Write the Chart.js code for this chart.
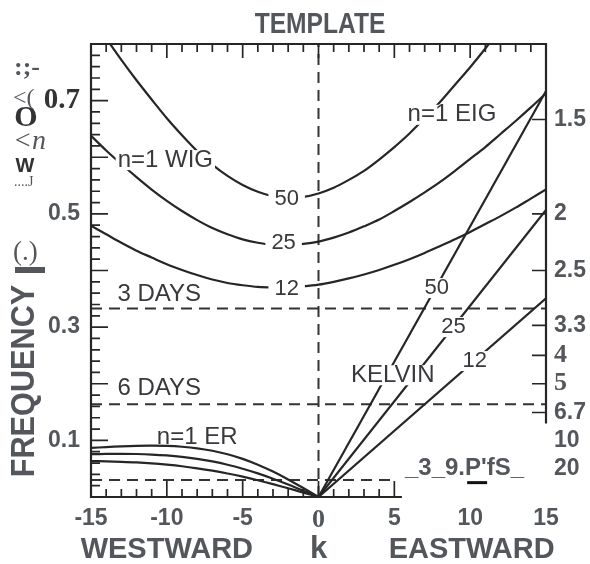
<!DOCTYPE html>
<html>
<head>
<meta charset="utf-8">
<script src="https://cdn.jsdelivr.net/npm/chart.js@4.4.1/dist/chart.umd.min.js"></script>
<style>
  html, body { margin: 0; padding: 0; background: #fff; }
</style>
</head>
<body>
<canvas id="c" width="590" height="564"></canvas>
<script>
// zonal wavenumber k
const kAll = [-15,-14,-13,-12,-11,-10,-9,-8,-7,-6,-5,-4,-3,-2,-1,0,1,2,3,4,5,6,7,8,9,10,11,12,13,14,15];
const kWest = [-15,-14,-13,-12,-11,-10,-9,-8,-7,-6,-5,-4,-3,-2,-1,0];
const kKelvin = [0, 15];

// n=1 WIG (k<0) / EIG (k>0) curves, frequency in cpd
const ig50 = [0.849,0.810,0.772,0.736,0.702,0.669,0.639,0.611,0.587,0.567,0.551,0.539,0.531,0.529,0.530,0.536,0.546,0.560,0.576,0.596,0.618,0.642,0.669,0.697,0.728,0.759,0.792,0.827,0.862,0.898,0.936];
const ig25 = [0.638,0.612,0.588,0.565,0.543,0.523,0.505,0.489,0.475,0.464,0.455,0.449,0.445,0.445,0.447,0.451,0.458,0.467,0.478,0.490,0.505,0.521,0.538,0.556,0.576,0.597,0.618,0.641,0.664,0.688,0.713];
const ig12 = [0.479,0.464,0.449,0.435,0.423,0.411,0.401,0.392,0.384,0.378,0.374,0.371,0.370,0.370,0.372,0.375,0.380,0.386,0.393,0.401,0.410,0.420,0.431,0.443,0.455,0.468,0.482,0.496,0.511,0.527,0.543];

// n=1 ER curves
const er50 = [0.0866,0.0882,0.0895,0.0904,0.0907,0.0902,0.0887,0.0860,0.0816,0.0755,0.0674,0.0571,0.0449,0.0310,0.0158,0];
const er25 = [0.0756,0.0761,0.0762,0.0759,0.0750,0.0734,0.0709,0.0674,0.0628,0.0570,0.0499,0.0417,0.0323,0.0221,0.0112,0];
const er12 = [0.0634,0.0630,0.0622,0.0611,0.0594,0.0571,0.0543,0.0507,0.0465,0.0415,0.0359,0.0296,0.0227,0.0154,0.0078,0];

// Kelvin waves
const kelvin50 = [0, 0.717];
const kelvin25 = [0, 0.507];
const kelvin12 = [0, 0.351];

// dashed period lines (3, 6, 30 days)
const dayFreq = [0.333, 0.164, 0.030];
const dayEndK = [15, 15, 5];

// ticks
const kTicks = [-15, -10, -5, 0, 5, 10, 15];
const freqTicks = [0.1, 0.3, 0.5, 0.7];
const periodLabels = ['1.5', '2', '2.5', '3.3', '4', '5', '6.7', '10', '20'];
const periodDays = [1.5, 2, 2.5, 3.3, 4, 5, 6.7, 10, 20];

const ink = '#262626';
const gray = '#53575c';
const labelInk = '#37393c';
const SANS = '"Liberation Sans", Arial, sans-serif';
const SERIF = '"Liberation Serif", "Times New Roman", serif';

const pts = (xs, ys) => xs.map((v, i) => ({ x: v, y: ys[i] }));

function curve(data, tension = 0.3) {
  return { data, borderColor: ink, borderWidth: 2.2, pointRadius: 0, fill: false, tension };
}
function dashed(data) {
  return { data, borderColor: '#333', borderWidth: 2, borderDash: [11, 7], pointRadius: 0, fill: false, tension: 0 };
}

const datasets = [
  curve(pts(kAll, ig50)), curve(pts(kAll, ig25)), curve(pts(kAll, ig12)),
  curve(pts(kWest, er50)), curve(pts(kWest, er25)), curve(pts(kWest, er12)),
  curve(pts(kKelvin, kelvin50), 0), curve(pts(kKelvin, kelvin25), 0), curve(pts(kKelvin, kelvin12), 0),
  ...dayFreq.map((f, i) => dashed([{ x: -15, y: f }, { x: dayEndK[i], y: f }])),
  dashed([{ x: 0, y: 0 }, { x: 0, y: 0.8 }])
];

function drawText(ctx, s, x, y, font, color, align = 'center', sx = 1, base = 'middle') {
  ctx.save();
  ctx.translate(x, y);
  ctx.scale(sx, 1);
  ctx.font = font;
  ctx.fillStyle = color;
  ctx.textAlign = align;
  ctx.textBaseline = base;
  ctx.fillText(s, 0, 0);
  ctx.restore();
}

function boxedText(ctx, s, x, y, font, padX = 4) {
  ctx.save();
  ctx.font = font;
  const w = ctx.measureText(s).width;
  ctx.fillStyle = '#fff';
  ctx.fillRect(x - w / 2 - padX, y - 10, w + 2 * padX, 20);
  ctx.restore();
  drawText(ctx, s, x, y, font, labelInk);
}

const rightBorderEnd = 0.13;
const bottomBorderEnd = 5.5;

const decor = {
  id: 'decor',
  afterDraw(chart) {
    const { ctx, scales: { x, y } } = chart;
    const px = v => x.getPixelForValue(v);
    const py = v => y.getPixelForValue(v);
    ctx.save();
    ctx.strokeStyle = ink;
    ctx.lineWidth = 2.2;
    ctx.beginPath();
    ctx.moveTo(px(15), py(rightBorderEnd));
    ctx.lineTo(px(15), py(0.8));
    ctx.lineTo(px(-15), py(0.8));
    ctx.lineTo(px(-15), py(0));
    ctx.lineTo(px(bottomBorderEnd), py(0));
    ctx.stroke();

    ctx.lineWidth = 1.7;
    ctx.beginPath();
    for (let k = -15; k <= 15; k++) {
      const L = k % 5 === 0 ? 14 : 8;
      ctx.moveTo(px(k), py(0.8)); ctx.lineTo(px(k), py(0.8) + L);
    }
    for (let k = -15; k <= 5; k++) {
      const L = k % 5 === 0 ? 16 : 8;
      ctx.moveTo(px(k), py(0)); ctx.lineTo(px(k), py(0) - L);
    }
    for (let i = 0; i <= 40; i++) {
      const L = i % 5 === 0 ? 17 : 9;
      ctx.moveTo(px(-15), py(i * 0.02)); ctx.lineTo(px(-15) + L, py(i * 0.02));
    }
    periodDays.forEach(p => {
      if (1 / p >= rightBorderEnd) {
        ctx.moveTo(px(15), py(1 / p)); ctx.lineTo(px(15) - 14, py(1 / p));
      }
    });
    ctx.stroke();
    ctx.restore();

    // curve labels sitting in gaps of the lines
    const f24 = '24px ' + SANS;
    const f22 = '22px ' + SANS;
    boxedText(ctx, 'n=1 WIG', px(-10.1), py(0.595), f24, 2);
    boxedText(ctx, '50', px(-2.1), py(0.527), f22, 6);
    boxedText(ctx, '25', px(-2.3), py(0.448), f22, 6);
    boxedText(ctx, '12', px(-2.1), py(0.367), f22, 6);
    boxedText(ctx, 'n=1 EIG', px(8.8), py(0.675), f24, 3);
    boxedText(ctx, '50', px(7.8), py(0.369), f22, 4);
    boxedText(ctx, '25', px(8.9), py(0.300), f22, 4);
    boxedText(ctx, '12', px(10.3), py(0.240), f22, 4);
    boxedText(ctx, 'KELVIN', px(4.9), py(0.215), f24, 3);
    drawText(ctx, '3 DAYS', px(-10.5), py(0.357), f24, labelInk);
    drawText(ctx, '6 DAYS', px(-10.5), py(0.191), f24, labelInk);
    drawText(ctx, 'n=1 ER', px(-8.0), py(0.106), f24, labelInk);

    // mangled "30 DAYS" as it appears in the scan
    drawText(ctx, "_3_9.P'fS_", px(5.7), py(0.050), 'bold 24px ' + SANS, gray, 'left');
    ctx.fillStyle = '#111';
    ctx.fillRect(px(9.8), py(0.028), 20, 3);

    // title and axis words
    drawText(ctx, 'TEMPLATE', px(0.1), 33, 'bold 30px ' + SANS, gray, 'center', 0.82, 'alphabetic');
    drawText(ctx, 'WESTWARD', px(-10), 558, 'bold 29px ' + SANS, gray, 'center', 1, 'alphabetic');
    drawText(ctx, 'k', px(0), 558, 'bold 31px ' + SANS, gray, 'center', 1, 'alphabetic');
    drawText(ctx, 'EASTWARD', px(10.1), 558, 'bold 29px ' + SANS, gray, 'center', 1, 'alphabetic');

    ctx.save();
    ctx.translate(25, 381);
    ctx.rotate(-Math.PI / 2);
    drawText(ctx, 'FREQUENCY', 0, 0, 'bold 33px ' + SANS, gray, 'center', 0.93);
    ctx.restore();

    // scan residue above the frequency label
    drawText(ctx, ':;-', 14, 68, 'bold 26px ' + SERIF, gray, 'left');
    drawText(ctx, '<(', 13, 99, '24px ' + SERIF, gray, 'left');
    drawText(ctx, 'O', 26, 118, 'bold 30px ' + SERIF, '#333', 'center');
    drawText(ctx, '<n', 13, 142, 'italic 28px ' + SERIF, gray, 'left');
    drawText(ctx, 'W', 25, 166, 'bold 20px ' + SANS, '#333', 'center');
    drawText(ctx, '....J', 14, 182, '14px ' + SERIF, gray, 'left');
    drawText(ctx, '(.)', 13, 253, '27px ' + SERIF, gray, 'left');
    ctx.fillStyle = gray;
    ctx.fillRect(15, 267, 30, 6);
  }
};

new Chart(document.getElementById('c'), {
  type: 'line',
  data: { datasets },
  options: {
    responsive: false,
    animation: false,
    devicePixelRatio: 1,
    layout: { padding: { top: 44, left: 0, right: 0, bottom: 0 } },
    plugins: { legend: { display: false }, title: { display: false }, tooltip: { enabled: false } },
    scales: {
      x: {
        type: 'linear', position: 'bottom', min: -15, max: 15,
        grid: { display: false, drawTicks: false }, border: { display: false },
        afterBuildTicks: s => { s.ticks = kTicks.map(v => ({ value: v })); },
        afterFit: s => { s.height = 67; },
        ticks: {
          padding: 8, autoSkip: false, maxRotation: 0, color: gray,
          font: c => (c.tick && c.tick.value === 0)
            ? { family: SERIF, size: 26, weight: 'bold' }
            : { family: SANS, size: 23, weight: 'bold' },
          callback: v => String(v)
        }
      },
      y: {
        type: 'linear', position: 'left', min: 0, max: 0.8,
        grid: { display: false, drawTicks: false }, border: { display: false },
        afterBuildTicks: s => { s.ticks = freqTicks.map(v => ({ value: v })); },
        afterFit: s => { s.width = 91; },
        ticks: {
          padding: 11,
          color: c => (c.tick && c.tick.value === 0.7) ? '#333' : gray,
          font: c => (c.tick && c.tick.value === 0.7)
            ? { family: SERIF, size: 29, weight: 'bold' }
            : { family: SANS, size: 23, weight: 'bold' },
          callback: v => v.toFixed(1)
        }
      },
      y2: {
        type: 'linear', position: 'right', min: 0, max: 0.8,
        grid: { display: false, drawTicks: false }, border: { display: false },
        afterBuildTicks: s => { s.ticks = periodDays.map(p => ({ value: 1 / p })); },
        afterFit: s => { s.width = 44; },
        ticks: {
          padding: 8, color: gray,
          font: c => (c.tick && (c.index === 4 || c.index === 5))
            ? { family: SERIF, size: 26, weight: 'bold' }
            : { family: SANS, size: 23, weight: 'bold' },
          callback: (v, i) => periodLabels[i]
        }
      }
    }
  },
  plugins: [decor]
});
</script>
</body>
</html>
